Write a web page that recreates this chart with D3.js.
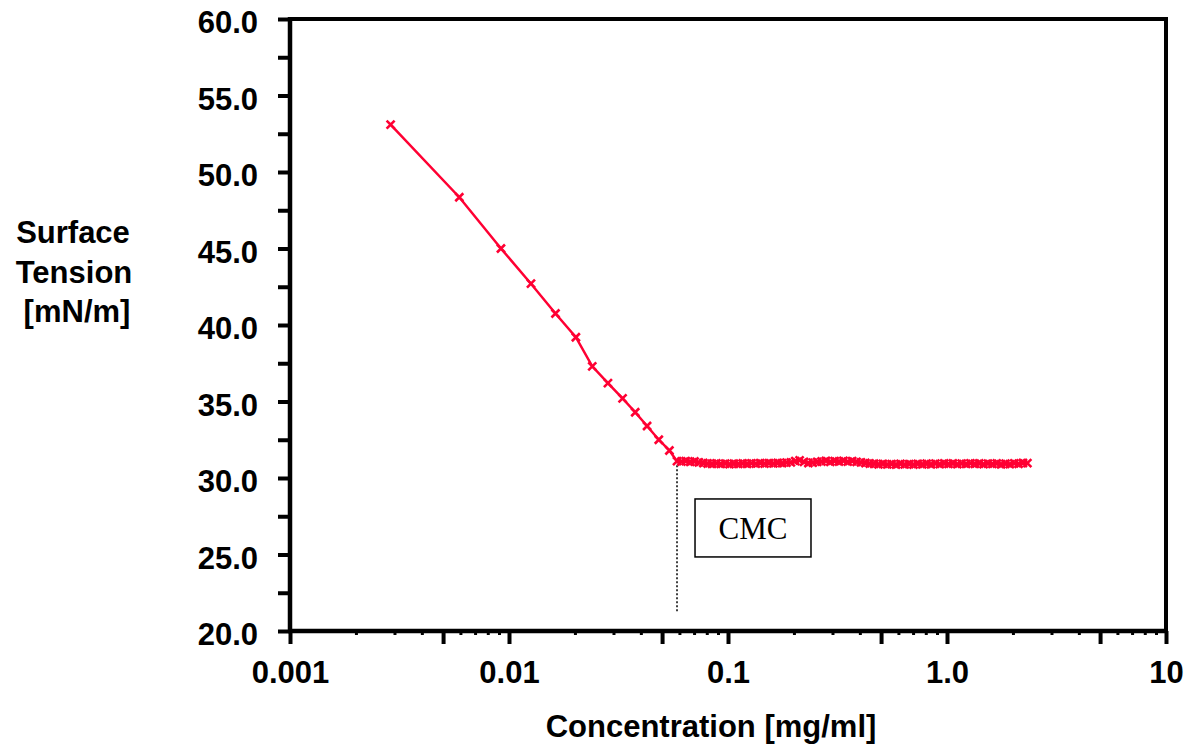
<!DOCTYPE html>
<html>
<head>
<meta charset="utf-8">
<script src="https://cdn.jsdelivr.net/npm/d3@7"></script>
<style>
  html, body { margin: 0; padding: 0; background: #ffffff; }
  svg { display: block; }
</style>
</head>
<body>
<svg id="chart" width="1199" height="744"></svg>
<script>
// ---- Data ----
const concentration = [
  0.00288, 0.00593, 0.00919, 0.0126, 0.0163, 0.0202, 0.0240, 0.0283, 0.0330, 0.0377, 0.0427, 0.0483, 0.0540,
  0.0585, 0.0613, 0.0641, 0.0672, 0.0703, 0.0736, 0.0771, 0.0807, 0.0845, 0.0885,
  0.0927, 0.0971, 0.1016, 0.1064, 0.1114, 0.1167, 0.1222, 0.1279, 0.1340, 0.1403,
  0.1469, 0.1538, 0.1611, 0.1687, 0.1766, 0.1849, 0.1936, 0.2028, 0.2123, 0.2223,
  0.2328, 0.2438, 0.2553, 0.2673, 0.2799, 0.2931, 0.3069, 0.3213, 0.3365, 0.3523,
  0.3689, 0.3865, 0.4047, 0.4238, 0.4437, 0.4646, 0.4865, 0.5094, 0.5334, 0.5586,
  0.585, 0.613, 0.641, 0.672, 0.703, 0.736, 0.771, 0.807, 0.845, 0.885,
  0.927, 0.971, 1.016, 1.064, 1.114, 1.167, 1.222, 1.279, 1.340, 1.403,
  1.469, 1.538, 1.611, 1.687, 1.766, 1.849, 1.936, 2.028, 2.123, 2.223, 2.328
];
const surfaceTension = [
  53.1, 48.35, 45.0, 42.7, 40.75, 39.2, 37.3, 36.2, 35.2, 34.3, 33.4, 32.5, 31.8,
  31.10, 31.08, 31.10, 31.06, 31.08, 31.02, 30.98, 30.95, 30.93, 30.95,
  30.92, 30.94, 30.91, 30.93, 30.92, 30.95, 30.93, 30.96, 30.94, 30.97,
  30.95, 30.97, 30.96, 30.98, 30.97, 31.00, 31.02, 31.10, 31.15, 31.05,
  30.98, 31.00, 31.05, 31.08, 31.12, 31.06, 31.10, 31.08, 31.12, 31.07,
  31.10, 31.05, 31.02, 30.98, 30.95, 30.93, 30.90, 30.92, 30.89, 30.91,
  30.88, 30.92, 30.89, 30.91, 30.88, 30.92, 30.90, 30.93, 30.90, 30.94,
  30.91, 30.95, 30.92, 30.95, 30.91, 30.94, 30.92, 30.96, 30.93, 30.95,
  30.91, 30.94, 30.92, 30.95, 30.90, 30.93, 30.91, 30.96, 30.93, 30.98, 30.97
];
const yTicks = [20, 22.5, 25, 27.5, 30, 32.5, 35, 37.5, 40, 42.5, 45, 47.5, 50, 52.5, 55, 57.5, 60];
const yTickLabels = [20, 25, 30, 35, 40, 45, 50, 55, 60];
const xMajorTicks = [0.001, 0.01, 0.1, 1, 10];
const xMajorLabels = ["0.001", "0.01", "0.1", "1.0", "10"];
const xHalfTicks = [0.005, 0.05, 0.5, 5];
const xMinorTicks = [
  0.002, 0.003, 0.004, 0.006, 0.007, 0.008, 0.009,
  0.02, 0.03, 0.04, 0.06, 0.07, 0.08, 0.09,
  0.2, 0.3, 0.4, 0.6, 0.7, 0.8, 0.9,
  2, 3, 4, 6, 7, 8, 9
];
const cmcConcentration = 0.0585;
const cmcTension = 31.1;
const cmcLineBottom = 21.25;
const cmcBox = { x0: 0.0707, x1: 0.2393, y0: 24.84, y1: 28.63, label: "CMC" };
const xTitle = "Concentration [mg/ml]";
const yTitleLines = ["Surface", "Tension", "[mN/m]"];

// ---- Layout ----
const plotLeft = 290, plotRight = 1166, plotTop = 19, plotBottom = 631;
const red = "#ff0033";
const sansBold = "'Liberation Sans', Arial, Helvetica, sans-serif";

const svg = d3.select("#chart");
const x = d3.scaleLog().domain([0.001, 10]).range([plotLeft, plotRight]);
const y = d3.scaleLinear().domain([20, 60]).range([plotBottom, plotTop]);

// Frame
svg.append("rect")
  .attr("x", plotLeft).attr("y", plotTop)
  .attr("width", plotRight - plotLeft).attr("height", plotBottom - plotTop)
  .attr("fill", "none").attr("stroke", "#000").attr("stroke-width", 4);
// heavier left and bottom axis lines
svg.append("line").attr("x1", plotLeft).attr("x2", plotLeft).attr("y1", plotTop - 2).attr("y2", plotBottom + 2)
  .attr("stroke", "#000").attr("stroke-width", 4.5);
svg.append("line").attr("x1", plotLeft - 2).attr("x2", plotRight + 2).attr("y1", plotBottom).attr("y2", plotBottom)
  .attr("stroke", "#000").attr("stroke-width", 4.5);

// Y axis (ticks outward every 2.5, labels every 5)
const yAxis = d3.axisLeft(y)
  .tickValues(yTicks)
  .tickSize(12)
  .tickSizeOuter(0)
  .tickPadding(20)
  .tickFormat(d => yTickLabels.includes(d) ? d3.format(".1f")(d) : "");
const gy = svg.append("g").attr("transform", `translate(${plotLeft},0)`).call(yAxis);
gy.select(".domain").remove();
gy.selectAll(".tick line").attr("stroke", "#000").attr("stroke-width", 4);
gy.selectAll(".tick text")
  .attr("dy", "0.45em")
  .style("font-family", sansBold).style("font-weight", "bold").style("font-size", "31px")
  .attr("fill", "#000");

// X axis: major ticks with labels
const xAxis = d3.axisBottom(x)
  .tickValues(xMajorTicks)
  .tickSize(13)
  .tickSizeOuter(0)
  .tickPadding(17)
  .tickFormat((d, i) => xMajorLabels[i]);
const gx = svg.append("g").attr("transform", `translate(0,${plotBottom})`).call(xAxis);
gx.select(".domain").remove();
gx.selectAll(".tick line").attr("stroke", "#000").attr("stroke-width", 4);
gx.selectAll(".tick text")
  .style("font-family", sansBold).style("font-weight", "bold").style("font-size", "31px")
  .attr("fill", "#000");

// X axis: half-decade ticks
const gx5 = svg.append("g").attr("transform", `translate(0,${plotBottom})`)
  .call(d3.axisBottom(x).tickValues(xHalfTicks).tickSize(13).tickSizeOuter(0).tickFormat(""));
gx5.select(".domain").remove();
gx5.selectAll(".tick line").attr("stroke", "#000").attr("stroke-width", 4);

// X axis: minor ticks
const gxm = svg.append("g").attr("transform", `translate(0,${plotBottom})`)
  .call(d3.axisBottom(x).tickValues(xMinorTicks).tickSize(4).tickSizeOuter(0).tickFormat(""));
gxm.select(".domain").remove();
gxm.selectAll(".tick line").attr("stroke", "#000").attr("stroke-width", 3);

// CMC dotted drop line
svg.append("line")
  .attr("x1", x(cmcConcentration)).attr("x2", x(cmcConcentration))
  .attr("y1", y(cmcTension)).attr("y2", y(cmcLineBottom))
  .attr("stroke", "#000").attr("stroke-width", 1.5)
  .attr("stroke-dasharray", "2,2");

// CMC box
svg.append("rect")
  .attr("x", x(cmcBox.x0)).attr("y", y(cmcBox.y1))
  .attr("width", x(cmcBox.x1) - x(cmcBox.x0))
  .attr("height", y(cmcBox.y0) - y(cmcBox.y1))
  .attr("fill", "#fff").attr("stroke", "#000").attr("stroke-width", 1.5);
svg.append("text")
  .attr("x", (x(cmcBox.x0) + x(cmcBox.x1)) / 2)
  .attr("y", (y(cmcBox.y0) + y(cmcBox.y1)) / 2 + 11)
  .attr("text-anchor", "middle")
  .style("font-family", "'Liberation Serif', 'Times New Roman', serif")
  .style("font-size", "31px")
  .attr("fill", "#000")
  .text(cmcBox.label);

// Data line
const data = concentration.map((c, i) => ({ c, t: surfaceTension[i] }));
svg.append("path")
  .datum(data)
  .attr("fill", "none")
  .attr("stroke", red)
  .attr("stroke-width", 2.5)
  .attr("d", d3.line().x(d => x(d.c)).y(d => y(d.t)));

// Markers (x shapes)
svg.append("g").selectAll("path")
  .data(data)
  .join("path")
  .attr("transform", d => `translate(${x(d.c)},${y(d.t)})`)
  .attr("d", "M-4,-4L4,4M-4,4L4,-4")
  .attr("stroke", red)
  .attr("stroke-width", 2.6)
  .attr("fill", "none");

// Axis titles
svg.append("text")
  .attr("x", 711).attr("y", 737)
  .attr("text-anchor", "middle")
  .style("font-family", sansBold).style("font-weight", "bold").style("font-size", "31px")
  .attr("fill", "#000")
  .text(xTitle);

const yTitleY = [243, 283, 322];
const yTitleX = [73, 74, 77];
svg.append("g").selectAll("text")
  .data(yTitleLines)
  .join("text")
  .attr("x", (d, i) => yTitleX[i])
  .attr("y", (d, i) => yTitleY[i])
  .attr("text-anchor", "middle")
  .style("font-family", sansBold).style("font-weight", "bold").style("font-size", "31px")
  .attr("fill", "#000")
  .text(d => d);
</script>
</body>
</html>
